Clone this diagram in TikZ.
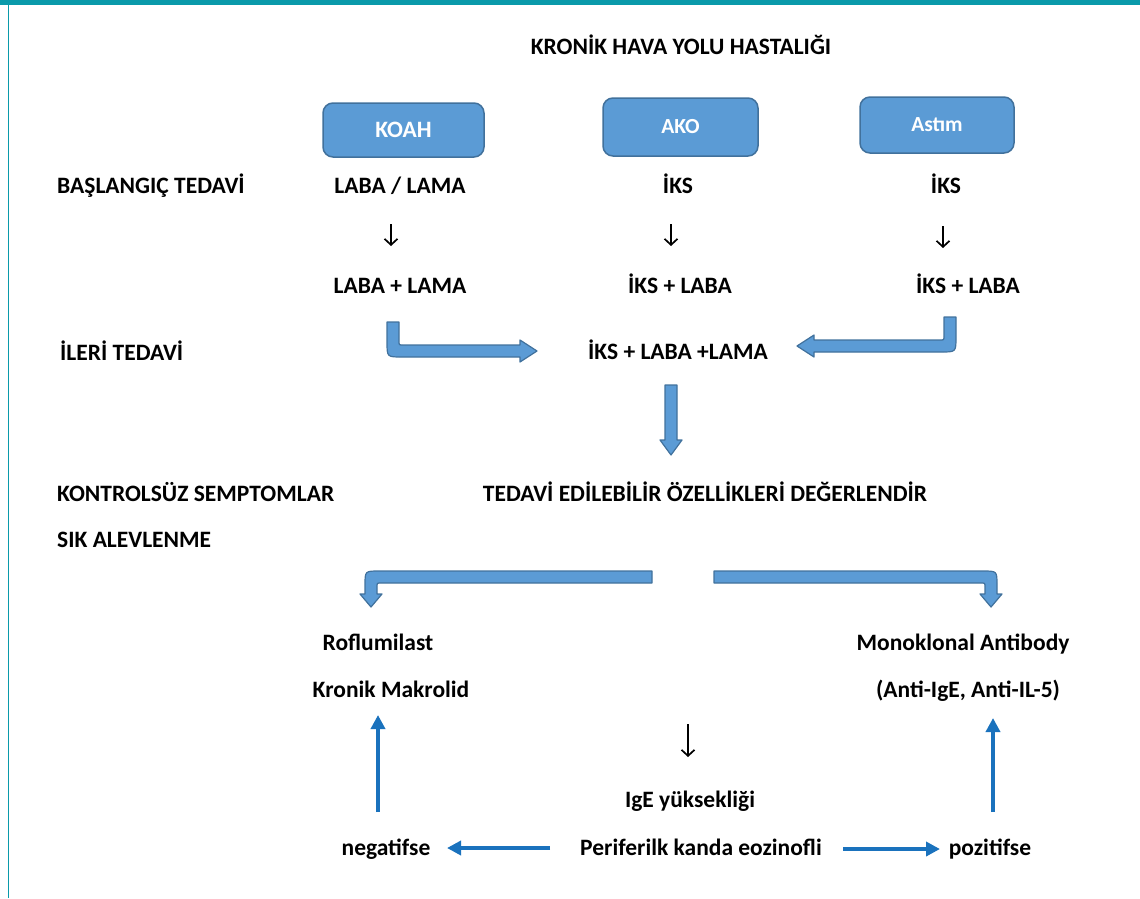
\documentclass[tikz,border=0pt]{standalone}
\usepackage{fontspec}
\setmainfont{Carlito}
\usetikzlibrary{arrows.meta}
\definecolor{boxfill}{HTML}{5B9BD5}
\definecolor{boxline}{HTML}{41719C}
\definecolor{thinblue}{HTML}{1A72BD}
\definecolor{frameteal}{HTML}{0A9AAA}
\tikzset{
  lbl/.style={inner sep=0pt, anchor=base, font=\bfseries\fontsize{23.5}{28}\selectfont, text=black},
  lblw/.style={lbl, anchor=base west},
  disease/.style={draw=boxline, line width=1.5pt, fill=boxfill, rounded corners=10pt, text=white,
    font=\bfseries\fontsize{21.5}{26}\selectfont, inner sep=0pt},
  blockarrow/.style={draw=boxline, line width=1.2pt, fill=boxfill, line join=round},
  thinarrow/.style={draw=thinblue, line width=3.5pt, -{Triangle[length=14pt,width=14pt]}},
  blackarrow/.style={draw=black, line width=1.7pt, -{Straight Barb[length=6pt,width=13pt]}},
}
\begin{document}
\begin{tikzpicture}[x=1pt,y=-1pt]
\useasboundingbox (0,0) rectangle (1140,898);
% frame
\fill[frameteal] (0,0) rectangle (1140,5);
\draw[frameteal, line width=1.5pt] (8.5,5) -- (8.5,898);

% title and disease boxes
\node[lbl] (title) at (681,54.5) {KRONİK HAVA YOLU HASTALIĞI};
\node[disease, minimum width=161pt, minimum height=54pt, font=\bfseries\fontsize{23.5}{28}\selectfont] (koah) at (403.5,130) {KOAH};
\node[disease, minimum width=155pt, minimum height=58pt] (ako) at (680.5,127) {AKO};
\node[disease, minimum width=154pt, minimum height=56pt] (astim) at (937,125) {Astım};

% rows
\node[lblw] (bas) at (57,193.5) {BAŞLANGIÇ TEDAVİ};
\node[lbl] (lab1) at (400,193.5) {LABA / LAMA};
\node[lbl] (iks1) at (678,193.5) {İKS};
\node[lbl] (iks2) at (946,193.5) {İKS};

\coordinate (d1s) at (391,224); \coordinate (d1e) at (391,246);
\coordinate (d2s) at (671,224); \coordinate (d2e) at (671,246);
\coordinate (d3s) at (943,226); \coordinate (d3e) at (943,248);
\draw[blackarrow] (d1s) -- (d1e);
\draw[blackarrow] (d2s) -- (d2e);
\draw[blackarrow] (d3s) -- (d3e);

\node[lbl] (lab2) at (400,293.5) {LABA + LAMA};
\node[lbl] (iksl1) at (680,293.5) {İKS + LABA};
\node[lbl] (iksl2) at (968,293.5) {İKS + LABA};

\node[lblw] (ileri) at (60,360.5) {İLERİ TEDAVİ};
\node[lbl] (ikslama) at (678,359.5) {İKS + LABA +LAMA};

% bent block arrows to the middle
\draw[blockarrow] (387,322) -- (387,342) .. controls (387,357) .. (402,357) -- (520,357)
  -- (520,362) -- (537,351) -- (520,340) -- (520,345) -- (403,345)
  .. controls (399,345) .. (399,341) -- (399,322) -- cycle;
\draw[blockarrow] (956,317) -- (956,337) .. controls (956,352) .. (941,352) -- (814,352)
  -- (814,357) -- (797,346) -- (814,335) -- (814,340) -- (940,340)
  .. controls (944,340) .. (944,336) -- (944,317) -- cycle;
% straight block arrow down
\draw[blockarrow] (665,385) -- (677,385) -- (677,440) -- (682,440) -- (671,455)
  -- (660,440) -- (665,440) -- cycle;

\node[lblw] (kont) at (57,501.5) {KONTROLSÜZ SEMPTOMLAR};
\node[lbl] (tedavi) at (705,501.5) {TEDAVİ EDİLEBİLİR ÖZELLİKLERİ DEĞERLENDİR};
\node[lblw] (sik) at (57,547.5) {SIK ALEVLENME};

% split block arrows
\draw[blockarrow] (652,571) -- (652,583) -- (381,583) .. controls (377,583) .. (377,587)
  -- (377,594) -- (382,594) -- (371,607) -- (360,594) -- (365,594) -- (365,585)
  .. controls (365,571) .. (379,571) -- cycle;
\draw[blockarrow] (714,571) -- (714,583) -- (981,583) .. controls (985,583) .. (985,587)
  -- (985,594) -- (980,594) -- (991,607) -- (1002,594) -- (997,594) -- (997,585)
  .. controls (997,571) .. (983,571) -- cycle;

\node[lbl] (rof) at (378,650.5) {Roflumilast};
\node[lbl] (krm) at (391,697.5) {Kronik Makrolid};
\node[lbl] (mono) at (963,650.5) {Monoklonal Antibody};
\node[lbl] (anti) at (968,697.5) {(Anti-IgE, Anti-IL-5)};

\coordinate (d4s) at (688,724); \coordinate (d4e) at (688,757);
\draw[blackarrow] (d4s) -- (d4e);

\node[lbl] (ige) at (690,807.5) {IgE yüksekliği};
\node[lbl] (peri) at (701,855.5) {Periferilk kanda eozinofli};
\node[lbl] (neg) at (386,855.5) {negatifse};
\node[lbl] (poz) at (990,855.5) {pozitifse};

% thin blue arrows
\coordinate (pl) at (550,848); \coordinate (nl) at (447,848);
\coordinate (pr) at (843,849); \coordinate (zr) at (940,849);
\coordinate (nu) at (378,812); \coordinate (ku) at (378,715);
\coordinate (zu) at (993,812); \coordinate (au) at (993,718);
\draw[thinarrow] (pl) -- (nl);
\draw[thinarrow] (pr) -- (zr);
\draw[thinarrow] (nu) -- (ku);
\draw[thinarrow] (zu) -- (au);
\end{tikzpicture}
\end{document}
